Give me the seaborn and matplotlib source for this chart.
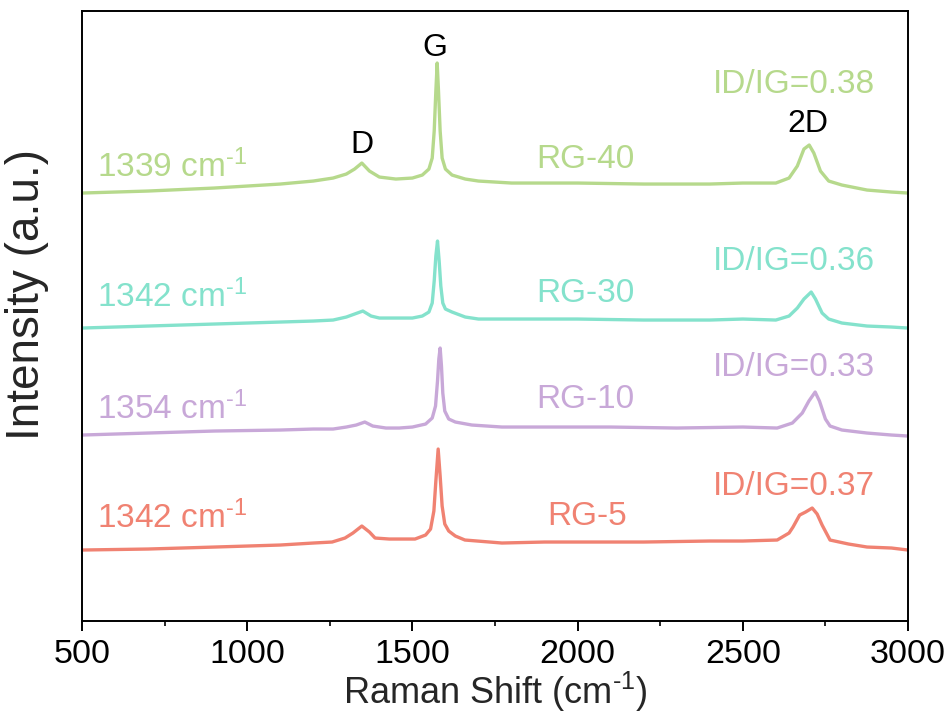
import pandas as pd
import seaborn as sns
import matplotlib.pyplot as plt
from matplotlib.ticker import MultipleLocator

# Raman spectra (intensity in arbitrary units, already offset)
x_rg5 = [500, 700, 903, 1100, 1200, 1257, 1296, 1320, 1347, 1370, 1387, 1430, 1508, 1540, 1555,
         1565, 1571, 1578, 1584, 1590, 1598, 1610, 1630, 1659, 1771, 1900, 2000, 2200, 2400, 2500,
         2604, 2640, 2652, 2672, 2690, 2710, 2725, 2740, 2764, 2820, 2876, 2950, 3000]
y_rg5 = [71, 72, 74, 76, 78, 79, 83, 88, 95, 89, 83, 82, 82, 86, 92,
         110, 140, 172, 145, 115, 97, 90, 85, 81, 78, 79, 79, 79, 80, 80,
         81, 88, 94, 106, 109, 113, 107, 96, 81, 77, 74, 73, 71]

x_rg10 = [500, 700, 900, 1100, 1200, 1260, 1300, 1330, 1356, 1380, 1420, 1460, 1500, 1540, 1560,
          1570, 1576, 1580, 1584, 1588, 1592, 1598, 1610, 1630, 1680, 1771, 1900, 2100, 2300, 2500,
          2604, 2650, 2680, 2700, 2719, 2732, 2750, 2764, 2800, 2876, 2950, 3000]
y_rg10 = [186, 188, 190, 191, 192, 192, 194, 196, 199, 195, 193, 193, 194, 197, 203,
          215, 240, 262, 273, 255, 228, 210, 202, 199, 196, 194, 194, 194, 193, 194,
          193, 198, 208, 220, 229, 220, 202, 195, 191, 188, 186, 185]

x_rg30 = [500, 700, 900, 1100, 1200, 1260, 1300, 1325, 1350, 1375, 1400, 1450, 1500, 1530, 1550,
          1560, 1566, 1571, 1576, 1581, 1586, 1592, 1600, 1620, 1660, 1700, 1800, 2000, 2200, 2400,
          2500, 2600, 2640, 2665, 2685, 2707, 2720, 2740, 2760, 2800, 2876, 2950, 3000]
y_rg30 = [293, 295, 297, 299, 300, 301, 304, 307, 310, 305, 303, 303, 303, 305, 309,
          318, 340, 365, 380, 360, 335, 318, 312, 309, 304, 302, 302, 302, 301, 301,
          302, 301, 305, 313, 322, 329, 322, 308, 302, 298, 295, 294, 293]

x_rg40 = [500, 700, 900, 1100, 1200, 1260, 1300, 1325, 1347, 1370, 1400, 1450, 1500, 1530, 1550,
          1560, 1566, 1571, 1575, 1579, 1584, 1590, 1600, 1620, 1660, 1700, 1800, 2000, 2200, 2400,
          2500, 2600, 2640, 2665, 2685, 2701, 2715, 2735, 2760, 2800, 2876, 2950, 3000]
y_rg40 = [428, 430, 433, 437, 440, 443, 447, 452, 458, 450, 444, 442, 443, 446, 452,
          463, 490, 530, 558, 530, 490, 463, 452, 446, 442, 440, 438, 438, 437, 437,
          438, 438, 443, 455, 472, 476, 468, 450, 440, 436, 431, 429, 428]

samples = ['RG-5', 'RG-10', 'RG-30', 'RG-40']
colors = ['#F08272', '#C8A8D8', '#84E2CC', '#B6D98C']
d_positions = ['1342', '1354', '1342', '1339']
ratios = ['0.37', '0.33', '0.36', '0.38']

df = pd.concat([
    pd.DataFrame({'shift': x, 'intensity': y, 'sample': s})
    for x, y, s in zip([x_rg5, x_rg10, x_rg30, x_rg40],
                       [y_rg5, y_rg10, y_rg30, y_rg40], samples)
])

sns.set_style('ticks')
plt.rcParams['font.family'] = ['Liberation Sans', 'DejaVu Sans']
plt.rcParams['mathtext.fontset'] = 'custom'
plt.rcParams['mathtext.rm'] = 'Liberation Sans'

fig = plt.figure(figsize=(9.5, 7.13), dpi=100)
ax = fig.add_axes([0.0863, 0.129, 0.8695, 0.8555])

sns.lineplot(data=df, x='shift', y='intensity', hue='sample', palette=colors,
             hue_order=samples, linewidth=2.4, legend=False, ax=ax)

ax.set_xlim(500, 3000)
ax.set_ylim(0, 610)
ax.set_yticks([])
ax.xaxis.set_major_locator(MultipleLocator(500))
ax.xaxis.set_minor_locator(MultipleLocator(250))
ax.tick_params(axis='x', which='major', direction='out', length=7, width=1.4,
               labelsize=24.5, pad=6, colors='black')
ax.tick_params(axis='x', which='minor', direction='out', length=3.5, width=1.4)
for sp in ax.spines.values():
    sp.set_linewidth(1.4)
    sp.set_color('black')
    sp.set_visible(True)

sup = '$\\mathregular{^{\\text{-}1}}$'
ax.set_xlabel('Raman Shift (cm' + sup + ')', fontsize=26, labelpad=0)
ax.set_ylabel('Intensity (a.u.)', fontsize=33)
ax.yaxis.set_label_coords(-0.04, 0.535)

# per-sample labels (baselines in data units)
left_y = [93, 202, 314, 444]
mid_x = [1907, 1874, 1874, 1874]
mid_y = [96, 213, 319, 453]
ratio_y = [126, 245, 351, 528]
for i in range(4):
    ax.text(545, left_y[i], d_positions[i] + ' cm' + sup, color=colors[i],
            fontsize=24, va='baseline', ha='left')
    ax.text(mid_x[i], mid_y[i], samples[i], color=colors[i], fontsize=24,
            va='baseline', ha='left')
    ax.text(2410, ratio_y[i], 'ID/IG=' + ratios[i], color=colors[i], fontsize=24,
            va='baseline', ha='left')

# peak names
ax.text(1569, 565, 'G', fontsize=23, ha='center', va='baseline', color='black')
ax.text(1347, 468, 'D', fontsize=23, ha='center', va='baseline', color='black')
ax.text(2698, 489, '2D', fontsize=23, ha='center', va='baseline', color='black')

fig.savefig('out.png', dpi=100)
